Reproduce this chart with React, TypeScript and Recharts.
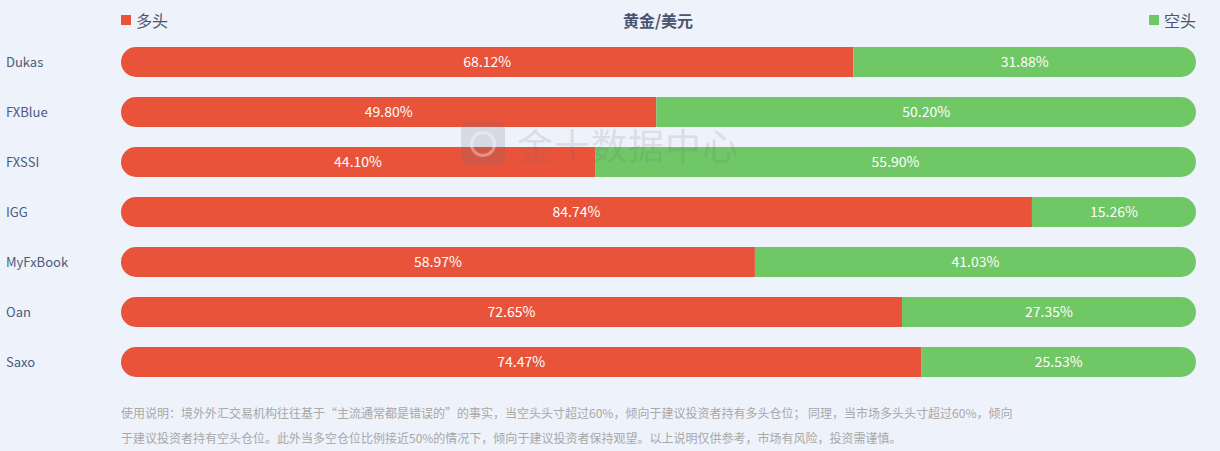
import { Bar, BarChart, XAxis, YAxis, LabelList } from 'recharts'

const brokers = ['Dukas', 'FXBlue', 'FXSSI', 'IGG', 'MyFxBook', 'Oan', 'Saxo']
const longPct = [68.12, 49.8, 44.1, 84.74, 58.97, 72.65, 74.47]
const shortPct = [31.88, 50.2, 55.9, 15.26, 41.03, 27.35, 25.53]

const RED = '#e8533a'
const GREEN = '#6fc766'
const BG = '#eef2fa'
const FONT = '"Noto Sans CJK SC", "Open Sans", sans-serif'

const data = brokers.map((name, i) => ({ name, long: longPct[i], short: shortPct[i] }))

const fmt = (v: any) => `${Number(v).toFixed(2)}%`

function NameTick(props: any) {
    const { y, payload } = props
    return (
        <text x={6} y={y} dy={5} fontSize={13} fill="#4c5b7c" fontFamily={FONT}>
            {payload.value}
        </text>
    )
}

export default function App() {
    return (
        <div style={{ position: 'absolute', left: 0, top: 0, width: 1220, height: 451, background: BG, fontFamily: FONT, overflow: 'hidden' }}>
            {/* legend + title */}
            <div style={{ position: 'absolute', left: 121, top: 8, display: 'flex', alignItems: 'center', fontSize: 16, color: '#4a5570' }}>
                <span style={{ width: 10, height: 10, background: RED, display: 'inline-block', marginRight: 5 }} />
                多头
            </div>
            <div style={{ position: 'absolute', left: 0, width: 1316, top: 8, textAlign: 'center', fontSize: 16, fontWeight: 'bold', color: '#4a5570' }}>
                黄金/美元
            </div>
            <div style={{ position: 'absolute', right: 24, top: 8, display: 'flex', alignItems: 'center', fontSize: 16, color: '#4a5570' }}>
                <span style={{ width: 10, height: 10, background: GREEN, display: 'inline-block', marginRight: 5 }} />
                空头
            </div>

            <div style={{ position: 'absolute', left: 0, top: 0 }}>
                <BarChart width={1220} height={451} data={data} layout="vertical"
                    margin={{ top: 37, right: 24, bottom: 64, left: 0 }}>
                    <XAxis type="number" domain={[0, 100]} hide />
                    <YAxis type="category" dataKey="name" width={121}
                        axisLine={false} tickLine={false} tick={<NameTick />} />
                    <Bar dataKey="long" stackId="a" fill={RED} barSize={30}
                        radius={[15, 0, 0, 15]} isAnimationActive={false}>
                        <LabelList dataKey="long" position="center" fill="#fff"
                            fontSize={14} fontFamily={FONT} formatter={fmt} />
                    </Bar>
                    <Bar dataKey="short" stackId="a" fill={GREEN} barSize={30}
                        radius={[0, 15, 15, 0]} isAnimationActive={false}>
                        <LabelList dataKey="short" position="center" fill="#fff"
                            fontSize={14} fontFamily={FONT} formatter={fmt} />
                    </Bar>
                </BarChart>
            </div>

            {/* watermark */}
            <div style={{ position: 'absolute', left: 461, top: 122, width: 44, height: 44, borderRadius: 8, background: 'rgba(110,110,120,0.18)', pointerEvents: 'none' }}>
                <div style={{ position: 'absolute', left: 9, top: 9, width: 20, height: 20, borderRadius: '50%', border: '3px solid rgba(255,255,255,0.35)' }} />
            </div>
            <div style={{ position: 'absolute', left: 517, top: 120, fontSize: 36, color: 'rgba(110,110,120,0.18)', letterSpacing: 1, pointerEvents: 'none', lineHeight: '48px' }}>
                金十数据中心
            </div>

            {/* footer */}
            <div style={{ position: 'absolute', left: 121, top: 400, fontSize: 12, color: '#a8a8a8', lineHeight: '25px', whiteSpace: 'nowrap' }}>
                <div>使用说明：境外外汇交易机构往往基于“主流通常都是错误的”的事实，当空头头寸超过60%，倾向于建议投资者持有多头仓位； 同理，当市场多头头寸超过60%，倾向</div>
                <div>于建议投资者持有空头仓位。此外当多空仓位比例接近50%的情况下，倾向于建议投资者保持观望。以上说明仅供参考，市场有风险，投资需谨慎。</div>
            </div>
        </div>
    )
}
